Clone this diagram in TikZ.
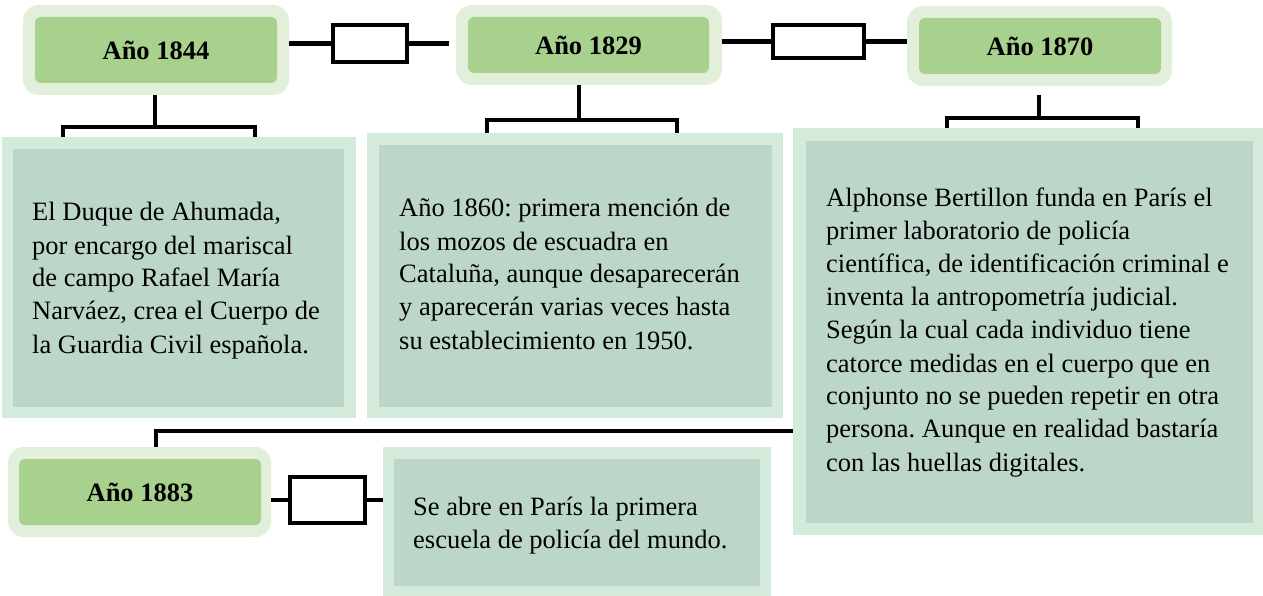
\documentclass[tikz,border=0pt]{standalone}
\usepackage{fontspec}
\setmainfont{Liberation Serif}
\definecolor{yearout}{HTML}{E2EFDA}
\definecolor{yearin}{HTML}{A9D18E}
\definecolor{txtout}{HTML}{D4EBDC}
\definecolor{txtin}{HTML}{BCD7CA}
\frenchspacing
\begin{document}
\begin{tikzpicture}[x=1pt,y=-1pt,
  yo/.style={fill=yearout,rounded corners=16pt,inner sep=0pt},
  yi/.style={fill=yearin,rounded corners=6pt,inner sep=0pt,font=\fontsize{26.5}{33}\selectfont\bfseries},
  to/.style={fill=txtout,inner sep=0pt},
  ti/.style={fill=txtin,inner sep=0pt},
  tx/.style={anchor=base west,inner sep=0pt,font=\fontsize{26.5}{33}\selectfont\frenchspacing},
  conn/.style={draw=black,line width=4.5pt},
  cbox/.style={draw=black,line width=4.5pt,fill=white,inner sep=0pt}]
\useasboundingbox (0,0) rectangle (1263,596);
% year boxes
\node[yo,minimum width=266pt,minimum height=90pt] (o1844) at (156,50) {};
\node[yi,minimum width=242pt,minimum height=66pt] (y1844) at (156,50) {Año 1844};
\node[yo,minimum width=266pt,minimum height=80pt] (o1829) at (589,45) {};
\node[yi,minimum width=241pt,minimum height=56pt] (y1829) at (588.5,45) {Año 1829};
\node[yo,minimum width=265pt,minimum height=80pt] (o1870) at (1039.5,46) {};
\node[yi,minimum width=242pt,minimum height=56pt] (y1870) at (1040,46) {Año 1870};
\node[yo,minimum width=263pt,minimum height=90pt] (o1883) at (139.5,492) {};
\node[yi,minimum width=242pt,minimum height=66pt] (y1883) at (140,492) {Año 1883};
% text boxes
\node[to,minimum width=354pt,minimum height=281pt] (ot1) at (179,277.5) {};
\node[ti,minimum width=331pt,minimum height=258pt] (t1) at (178.5,278) {};
\node[to,minimum width=416pt,minimum height=285pt] (ot2) at (575,275.5) {};
\node[ti,minimum width=393pt,minimum height=262pt] (t2) at (575.5,276) {};
\node[to,minimum width=470pt,minimum height=407pt] (ot3) at (1028,331.5) {};
\node[ti,minimum width=447pt,minimum height=382pt] (t3) at (1029.5,332) {};
\node[to,minimum width=388pt,minimum height=149pt] (ot4) at (577,521.5) {};
\node[ti,minimum width=366pt,minimum height=127pt] (t4) at (577,522.5) {};
% texts
\node[tx] (x1) at (32,221) {\parbox[t]{320pt}{\raggedright El Duque de Ahumada,\\ por encargo del mariscal\\ de campo Rafael María\\ Narváez, crea el Cuerpo de\\ la Guardia Civil española.}};
\node[tx] (x2) at (399,217) {\parbox[t]{380pt}{\raggedright Año 1860: primera mención de\\ los mozos de escuadra en\\ Cataluña, aunque desaparecerán\\ y aparecerán varias veces hasta\\ su establecimiento en 1950.}};
\node[tx] (x3) at (826,207) {\parbox[t]{430pt}{\raggedright Alphonse Bertillon funda en París el\\ primer laboratorio de policía\\ científica, de identificación criminal e\\ inventa la antropometría judicial.\\ Según la cual cada individuo tiene\\ catorce medidas en el cuerpo que en\\ conjunto no se pueden repetir en otra\\ persona. Aunque en realidad bastaría\\ con las huellas digitales.}};
\node[tx] (x4) at (413,515) {\parbox[t]{350pt}{\raggedright Se abre en París la primera\\ escuela de policía del mundo.}};
% horizontal connectors with boxes
\node[cbox,minimum width=74pt,minimum height=37pt] (c1) at (370,43.5) {};
\coordinate (c1e) at (449,43.5);
\draw[conn] (o1844.east |- c1.west) -- (c1.west);
\draw[conn] (c1.east) -- (c1e);
\node[cbox,minimum width=91pt,minimum height=33pt] (c2) at (818.5,41.5) {};
\draw[conn] (o1829.east |- c2.west) -- (c2.west);
\draw[conn] (c2.east) -- (o1870.west |- c2.east);
\node[cbox,minimum width=75pt,minimum height=46pt] (c3) at (327.5,500) {};
\draw[conn] (o1883.east |- c3.west) -- (c3.west);
\draw[conn] (c3.east) -- (ot4.west |- c3.east);
% brackets
\coordinate (b1l) at (63,137); \coordinate (b1m) at (155,127); \coordinate (b1r) at (255,137);
\draw[conn] (o1844.south -| b1m) -- (b1m);
\draw[conn] (b1l) |- (b1m) -| (b1r);
\coordinate (b2l) at (487,133); \coordinate (b2m) at (579,120); \coordinate (b2r) at (677,133);
\draw[conn] (o1829.south -| b2m) -- (b2m);
\draw[conn] (b2l) |- (b2m) -| (b2r);
\coordinate (b3t) at (1039,95); \coordinate (b3l) at (947,128); \coordinate (b3m) at (1039,118); \coordinate (b3r) at (1138,128);
\draw[conn] (b3t) -- (b3m);
\draw[conn] (b3l) |- (b3m) -| (b3r);
% long connector
\coordinate (lc) at (156,431);
\draw[conn] (ot3.west |- lc) -- (lc) -- (lc |- o1883.north);
\end{tikzpicture}
\end{document}
